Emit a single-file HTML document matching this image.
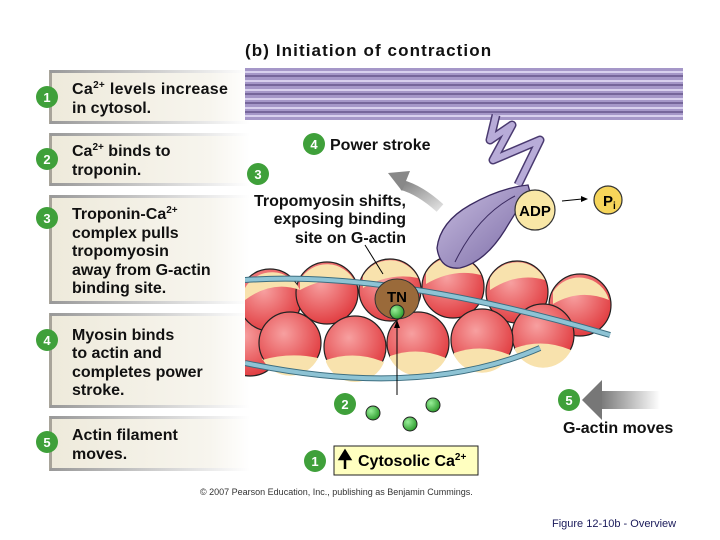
<!DOCTYPE html>
<html><head><style>
body{margin:0;background:#fff;}
svg{display:block;font-family:"Liberation Sans",sans-serif;}
</style></head><body>
<svg width="720" height="540" viewBox="0 0 720 540">
<defs>
<linearGradient id="box" x1="0" x2="1"><stop offset="0" stop-color="#eeeadb"/><stop offset="0.8" stop-color="#f7f5ee"/><stop offset="1" stop-color="#fff"/></linearGradient>
<linearGradient id="edge" x1="0" x2="1"><stop offset="0" stop-color="#999"/><stop offset="1" stop-color="#fff"/></linearGradient>
<linearGradient id="garr" x1="0" x2="1"><stop offset="0" stop-color="#777"/><stop offset="1" stop-color="#fff"/></linearGradient>
<linearGradient id="garr2" x1="0" x2="1" y1="0" y2="1"><stop offset="0" stop-color="#888"/><stop offset="1" stop-color="#ddd"/></linearGradient>
<radialGradient id="bead" cx="0.4" cy="0.35" r="0.7"><stop offset="0" stop-color="#f7a0a0"/><stop offset="1" stop-color="#e0383c"/></radialGradient>
<radialGradient id="grn" cx="0.35" cy="0.35" r="0.7"><stop offset="0" stop-color="#9e9"/><stop offset="1" stop-color="#2a9a2a"/></radialGradient>
<linearGradient id="head" x1="0" x2="1" y1="0" y2="1"><stop offset="0" stop-color="#c8bde0"/><stop offset="1" stop-color="#7a6aa5"/></linearGradient>
<clipPath id="cl"><rect x="245" y="200" width="475" height="250"/></clipPath>
</defs>
<g fill="url(#box)">
<rect x="50" y="70" width="200" height="54"/><rect x="50" y="133" width="200" height="53"/><rect x="50" y="195" width="200" height="109"/><rect x="50" y="313" width="200" height="95"/><rect x="50" y="416" width="200" height="55"/>
</g>
<g fill="#a8a49a">
<rect x="49" y="70" width="3" height="54"/><rect x="49" y="133" width="3" height="53"/><rect x="49" y="195" width="3" height="109"/><rect x="49" y="313" width="3" height="95"/><rect x="49" y="416" width="3" height="55"/>
</g>
<g fill="url(#edge)">
<rect x="50" y="70" width="200" height="3"/><rect x="50" y="121" width="200" height="3"/><rect x="50" y="133" width="200" height="3"/><rect x="50" y="183" width="200" height="3"/><rect x="50" y="195" width="200" height="3"/><rect x="50" y="301" width="200" height="3"/><rect x="50" y="313" width="200" height="3"/><rect x="50" y="405" width="200" height="3"/><rect x="50" y="416" width="200" height="3"/><rect x="50" y="468" width="200" height="3"/>
</g>
<g fill="#3fa03a">
<circle cx="47" cy="97" r="11"/><circle cx="47" cy="159" r="11"/><circle cx="47" cy="218" r="11"/><circle cx="47" cy="340" r="11"/><circle cx="47" cy="442" r="11"/>
<circle cx="314" cy="144" r="11"/><circle cx="258" cy="174" r="11"/><circle cx="345" cy="404" r="11"/><circle cx="315" cy="461" r="11"/><circle cx="569" cy="400" r="11"/>
</g>
<g fill="#fff" font-weight="bold" font-size="13" text-anchor="middle">
<text x="47" y="102">1</text><text x="47" y="164">2</text><text x="47" y="223">3</text><text x="47" y="345">4</text><text x="47" y="447">5</text>
<text x="314" y="149">4</text><text x="258" y="179">3</text><text x="345" y="409">2</text><text x="315" y="466">1</text><text x="569" y="405">5</text>
</g>
<g font-weight="bold" font-size="16" fill="#111">
<text x="72" y="94" letter-spacing="0.3">Ca<tspan font-size="10" dy="-6">2+</tspan><tspan dy="6"> levels increase</tspan></text>
<text x="72" y="113">in cytosol.</text>
<text x="72" y="156">Ca<tspan font-size="10" dy="-6">2+</tspan><tspan dy="6"> binds to</tspan></text>
<text x="72" y="175">troponin.</text>
<text x="72" y="219">Troponin-Ca<tspan font-size="10" dy="-6">2+</tspan></text>
<text x="72" y="238">complex pulls</text>
<text x="72" y="256">tropomyosin</text>
<text x="72" y="275">away from G-actin</text>
<text x="72" y="293">binding site.</text>
<text x="72" y="340">Myosin binds</text>
<text x="72" y="358">to actin and</text>
<text x="72" y="377">completes power</text>
<text x="72" y="395">stroke.</text>
<text x="72" y="440">Actin filament</text>
<text x="72" y="459">moves.</text>
<text x="245" y="56" font-size="17" letter-spacing="1.1">(b) Initiation of contraction</text>
<text x="330" y="150">Power stroke</text>
<text x="406" y="206" text-anchor="end">Tropomyosin shifts,</text>
<text x="406" y="224" text-anchor="end">exposing binding</text>
<text x="406" y="243" text-anchor="end">site on G-actin</text>
<text x="563" y="433">G-actin moves</text>
</g>
<!-- thick filament -->
<rect x="245" y="68" width="438" height="52" fill="#a597c8"/>
<g stroke="#5a4a80" stroke-width="1.3">
<line x1="245" y1="76" x2="683" y2="76"/><line x1="245" y1="85" x2="683" y2="85"/><line x1="245" y1="94" x2="683" y2="94"/><line x1="245" y1="103" x2="683" y2="103"/><line x1="245" y1="112" x2="683" y2="112"/>
</g>
<g stroke="#d8d0ee" stroke-width="2">
<line x1="245" y1="72" x2="683" y2="72"/><line x1="245" y1="81" x2="683" y2="81"/><line x1="245" y1="90" x2="683" y2="90"/><line x1="245" y1="99" x2="683" y2="99"/><line x1="245" y1="108" x2="683" y2="108"/><line x1="245" y1="116" x2="683" y2="116"/>
</g>
<!-- neck -->
<polyline points="496,115 490,140 512,125 493,160 540,140 518,185" fill="none" stroke="#4a3a70" stroke-width="9" stroke-linejoin="round"/>
<polyline points="496,115 490,140 512,125 493,160 540,140 518,185" fill="none" stroke="#b8acd8" stroke-width="6" stroke-linejoin="round"/>
<!-- actin beads -->
<g clip-path="url(#cl)">
<g stroke="#222" stroke-width="1.2">
<circle cx="250" cy="345" r="31" fill="url(#bead)"/>
<circle cx="270" cy="300" r="31" fill="url(#bead)"/>
<circle cx="327" cy="293" r="31" fill="url(#bead)"/>
<circle cx="390" cy="290" r="31" fill="url(#bead)"/>
<circle cx="453" cy="287" r="31" fill="url(#bead)"/>
<circle cx="517" cy="292" r="31" fill="url(#bead)"/>
<circle cx="580" cy="305" r="31" fill="url(#bead)"/>
<circle cx="543" cy="335" r="31" fill="url(#bead)"/>
<circle cx="482" cy="340" r="31" fill="url(#bead)"/>
<circle cx="418" cy="343" r="31" fill="url(#bead)"/>
<circle cx="355" cy="347" r="31" fill="url(#bead)"/>
<circle cx="290" cy="343" r="31" fill="url(#bead)"/>
</g>
<g fill="#f8e2ad">
<path d="M245 288 A31 31 0 0 1 300 290 Q272 280 245 300Z"/>
<path d="M300 280 A31 31 0 0 1 355 282 Q328 275 300 290Z"/>
<path d="M363 276 A31 31 0 0 1 418 278 Q390 272 363 288Z"/>
<path d="M426 273 A31 31 0 0 1 481 275 Q453 268 426 284Z"/>
<path d="M490 278 A31 31 0 0 1 545 280 Q517 272 490 290Z"/>
<path d="M553 292 A31 31 0 0 1 609 300 Q580 288 553 304Z"/>
<path d="M262 358 A31 31 0 0 0 318 358 Q290 352 262 360Z"/>
<path d="M326 362 A31 31 0 0 0 384 362 Q355 350 326 360Z"/>
<path d="M390 358 A31 31 0 0 0 446 358 Q418 346 390 356Z"/>
<path d="M454 355 A31 31 0 0 0 510 355 Q482 343 454 353Z"/>
<path d="M515 350 A31 31 0 0 0 571 350 Q543 338 515 348Z"/>
</g>
<path d="M245 280 Q390 270 610 335" fill="none" stroke="#3c6e80" stroke-width="6"/>
<path d="M245 280 Q390 270 610 335" fill="none" stroke="#8ec3d4" stroke-width="4"/>
<path d="M245 363 Q420 400 540 348" fill="none" stroke="#3c6e80" stroke-width="6"/>
<path d="M245 363 Q420 400 540 348" fill="none" stroke="#8ec3d4" stroke-width="4"/>
</g>
<!-- myosin head -->
<path d="M528 185 Q500 188 470 205 Q440 222 437 248 Q440 270 460 268 Q485 262 505 230 Q520 205 530 192Z" fill="url(#head)" stroke="#3a2a60" stroke-width="1.3"/>
<path d="M515 196 Q478 215 455 262" fill="none" stroke="#3a2a60" stroke-width="1"/>
<!-- ADP Pi -->
<circle cx="535" cy="210" r="20" fill="#f9e7a6" stroke="#333" stroke-width="1.2"/>
<text x="535" y="216" font-size="15" font-weight="bold" text-anchor="middle">ADP</text>
<circle cx="608" cy="200" r="14" fill="#f6d55a" stroke="#333" stroke-width="1.2"/>
<text x="603" y="206" font-size="15" font-weight="bold">P<tspan font-size="10" dy="3">i</tspan></text>
<line x1="562" y1="201" x2="582" y2="199" stroke="#000"/><path d="M588 199 l-7 -3 v6z"/>
<!-- gray arrows -->
<path d="M440 208 Q420 190 402 185" fill="none" stroke="url(#garr2)" stroke-width="10"/>
<path d="M388 173 l22 -2 l-8 20z" fill="#888"/>
<rect x="600" y="391" width="60" height="18" fill="url(#garr)"/>
<path d="M582 400 l20 -20 v40z" fill="#777"/>
<!-- TN -->
<line x1="365" y1="245" x2="383" y2="274" stroke="#000"/>
<ellipse cx="397" cy="299" rx="22" ry="20" fill="#9a6a3a" stroke="#333"/>
<text x="397" y="302" font-size="15" font-weight="bold" text-anchor="middle">TN</text>
<circle cx="397" cy="312" r="7" fill="url(#grn)" stroke="#222"/>
<line x1="397" y1="395" x2="397" y2="324" stroke="#000"/><path d="M397 320 l-3 8 h6z"/>
<circle cx="373" cy="413" r="7" fill="url(#grn)" stroke="#222"/>
<circle cx="410" cy="424" r="7" fill="url(#grn)" stroke="#222"/>
<circle cx="433" cy="405" r="7" fill="url(#grn)" stroke="#222"/>
<!-- cytosolic box -->
<rect x="334" y="446" width="144" height="29" fill="#ffffc0" stroke="#222"/>
<path d="M345 469 v-12 M340 459 l5 -8 l5 8z" stroke="#000" stroke-width="2.5"/>
<text x="358" y="466" font-size="16" font-weight="bold">Cytosolic Ca<tspan font-size="10" dy="-6">2+</tspan></text>
<text x="200" y="495" font-size="9" fill="#333">© 2007 Pearson Education, Inc., publishing as Benjamin Cummings.</text>
<text x="552" y="527" font-size="11" fill="#1a1a5a">Figure 12-10b - Overview</text>
</svg>
</body></html>
